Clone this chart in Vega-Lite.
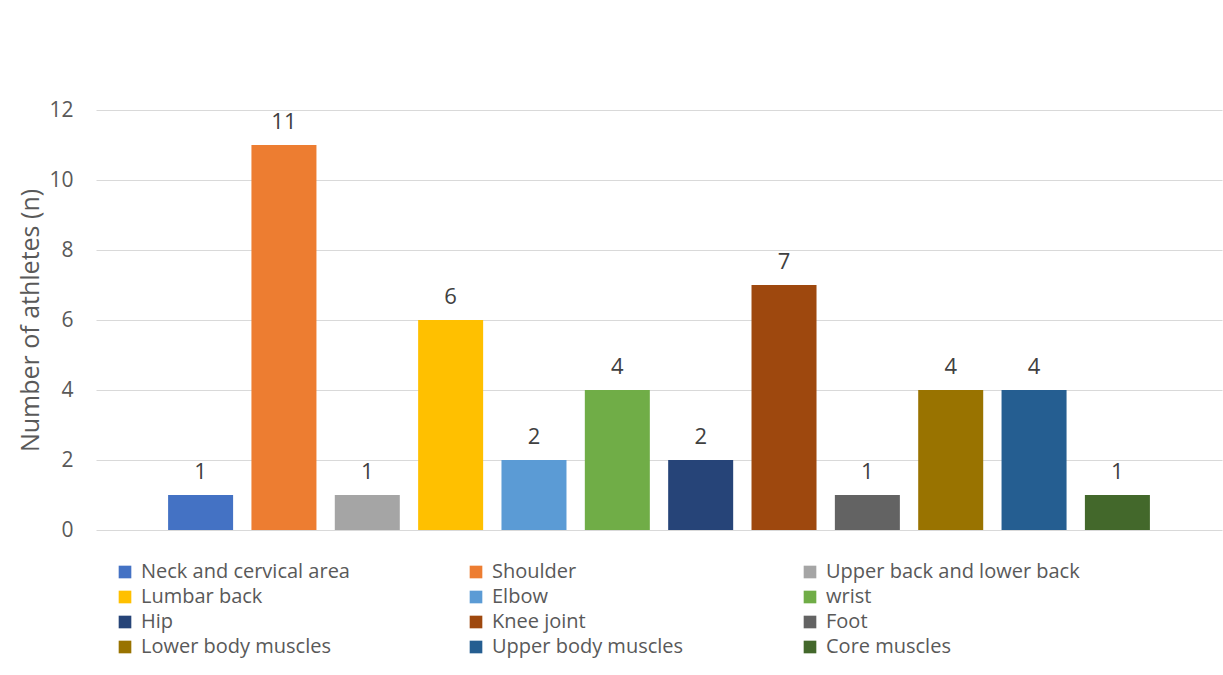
{
  "$schema": "https://vega.github.io/schema/vega-lite/v6.json",
  "autosize": {"type": "none"},
  "width": 1126,
  "height": 420,
  "padding": {"left": 96, "top": 110, "right": 1, "bottom": 145},
  "background": "#ffffff",
  "config": {
    "font": "Open Sans",
    "view": {"stroke": null},
    "axis": {"labelFont": "Open Sans", "titleFont": "Open Sans"},
    "legend": {"labelFont": "Open Sans"}
  },
  "data": {
    "values": [
      {"site": "Neck and cervical area", "athletes": 1},
      {"site": "Shoulder", "athletes": 11},
      {"site": "Upper back and lower back", "athletes": 1},
      {"site": "Lumbar back", "athletes": 6},
      {"site": "Elbow", "athletes": 2},
      {"site": "wrist", "athletes": 4},
      {"site": "Hip", "athletes": 2},
      {"site": "Knee joint", "athletes": 7},
      {"site": "Foot", "athletes": 1},
      {"site": "Lower body muscles", "athletes": 4},
      {"site": "Upper body muscles", "athletes": 4},
      {"site": "Core muscles", "athletes": 1}
    ]
  },
  "encoding": {
    "x": {
      "field": "site",
      "type": "nominal",
      "sort": null,
      "scale": {"paddingInner": 0.22, "paddingOuter": 0.865},
      "axis": null
    },
    "y": {
      "field": "athletes",
      "type": "quantitative",
      "scale": {"domain": [0, 12]},
      "axis": {
        "title": "Number of athletes (n)",
        "titleFontSize": 25,
        "titleFontWeight": "normal",
        "titleColor": "#595959",
        "titlePadding": 5,
        "values": [0, 2, 4, 6, 8, 10, 12],
        "labelFontSize": 21,
        "labelColor": "#595959",
        "labelPadding": 23,
        "ticks": false,
        "domain": false,
        "grid": true,
        "gridColor": "#d9d9d9",
        "gridWidth": 1.2
      }
    }
  },
  "layer": [
    {
      "mark": {"type": "bar"},
      "encoding": {
        "color": {
          "field": "site",
          "type": "nominal",
          "sort": null,
          "scale": {
            "domain": ["Neck and cervical area", "Shoulder", "Upper back and lower back", "Lumbar back", "Elbow", "wrist", "Hip", "Knee joint", "Foot", "Lower body muscles", "Upper body muscles", "Core muscles"],
            "range": ["#4472C4", "#ED7D31", "#A5A5A5", "#FFC000", "#5B9BD5", "#70AD47", "#264478", "#9E480E", "#636363", "#997300", "#255E91", "#43682B"]
          },
          "legend": {
            "title": null,
            "orient": "none",
            "legendX": 19,
            "legendY": 452,
            "direction": "horizontal",
            "columns": 3,
            "columnPadding": 116,
            "rowPadding": 5,
            "symbolType": "square",
            "symbolSize": 160,
            "symbolStrokeWidth": 0,
            "labelFontSize": 20,
            "labelColor": "#595959",
            "labelOffset": 6,
            "labelLimit": 400,
            "gridAlign": "each"
          }
        }
      }
    },
    {
      "mark": {"type": "text", "dy": -23, "fontSize": 22, "color": "#404040", "baseline": "middle"},
      "encoding": {"text": {"field": "athletes", "type": "quantitative"}}
    }
  ]
}
